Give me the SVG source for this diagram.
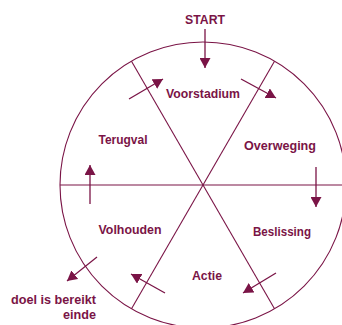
<svg xmlns="http://www.w3.org/2000/svg" width="342" height="325" viewBox="0 0 342 325">
<style>
.ln{fill:none;stroke:#7a1446;stroke-width:1.1}
.ar{fill:none;stroke:#7a1446;stroke-width:1.3;marker-end:url(#ah)}
text{font-family:"Liberation Sans",Arial,sans-serif;font-weight:bold;font-size:13.5px;fill:#7a1446}
.c{text-anchor:middle}
.e{text-anchor:end}
</style>
<defs>
<marker id="ah" markerUnits="userSpaceOnUse" viewBox="0 0 10 11" refX="10" refY="5.5" markerWidth="10" markerHeight="11" orient="auto">
<path d="M0,0 L10,5.5 L0,11 z" fill="#7a1446"/>
</marker>
</defs>
<g id="wheel">
<circle class="ln" cx="203" cy="185" r="143"/>
<line class="ln" x1="60" y1="185" x2="342" y2="185"/>
<line class="ln" x1="131.5" y1="61.2" x2="274.5" y2="308.8"/>
<line class="ln" x1="274.5" y1="61.2" x2="131.5" y2="308.8"/>
</g>
<g id="connectors">
<line class="ar" x1="205" y1="29" x2="205" y2="68"/>
<line class="ar" x1="129" y1="99" x2="163" y2="79"/>
<line class="ar" x1="241" y1="79" x2="276" y2="98"/>
<line class="ar" x1="316" y1="167" x2="316" y2="207"/>
<line class="ar" x1="90" y1="204" x2="90" y2="165"/>
<line class="ar" x1="276" y1="273" x2="243" y2="293"/>
<line class="ar" x1="165" y1="293" x2="131" y2="274"/>
<line class="ar" x1="97" y1="257" x2="67" y2="281"/>
</g>
<g id="start"><text class="c" x="205" y="24" textLength="40" lengthAdjust="spacingAndGlyphs">START</text></g>
<g id="voorstadium"><text class="c" x="203" y="98" textLength="74" lengthAdjust="spacingAndGlyphs">Voorstadium</text></g>
<g id="overweging"><text class="c" x="280" y="150" textLength="72" lengthAdjust="spacingAndGlyphs">Overweging</text></g>
<g id="beslissing"><text class="c" x="282" y="236" textLength="58" lengthAdjust="spacingAndGlyphs">Beslissing</text></g>
<g id="actie"><text class="c" x="207" y="280" textLength="30" lengthAdjust="spacingAndGlyphs">Actie</text></g>
<g id="volhouden"><text class="c" x="130" y="234" textLength="63" lengthAdjust="spacingAndGlyphs">Volhouden</text></g>
<g id="terugval"><text class="c" x="123" y="144" textLength="49" lengthAdjust="spacingAndGlyphs">Terugval</text></g>
<g id="einde"><text class="e" x="96" y="304" textLength="85" lengthAdjust="spacingAndGlyphs">doel is bereikt</text><text class="e" x="96" y="319" textLength="33" lengthAdjust="spacingAndGlyphs">einde</text></g>
</svg>
